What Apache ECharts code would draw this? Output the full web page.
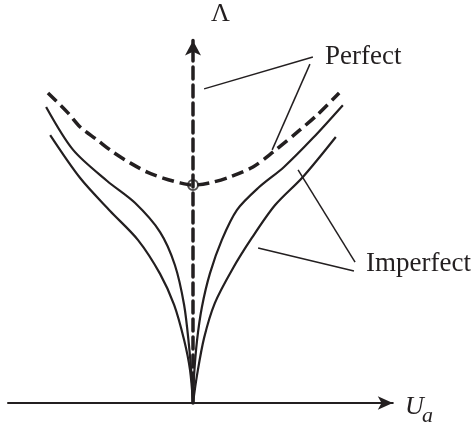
<!DOCTYPE html>
<html>
<head>
<meta charset="utf-8">
<script src="https://cdn.jsdelivr.net/npm/echarts@6/dist/echarts.min.js"></script>
<style>
  html, body { margin: 0; padding: 0; background: #fff; }
  #chart { width: 473px; height: 428px; }
</style>
</head>
<body>
<div id="chart"></div>
<script>
// Load–displacement sketch: U_a horizontally, Λ vertically.
// Perfect system: dashed post-buckling path branching from the vertical axis.
const perfectPath = [
  [-3.92, 8.38], [-3.38, 7.84], [-3.05, 7.46], [-2.59, 7.11], [-2.16, 6.78],
  [-1.70, 6.49], [-1.24, 6.24], [-0.81, 6.08], [-0.35, 5.95], [0, 5.89],
  [0.46, 5.95], [1.00, 6.11], [1.62, 6.38], [2.16, 6.78], [2.89, 7.38],
  [3.35, 7.78], [3.95, 8.38]
];
const bifurcationPoint = [[0, 5.89]];

// Imperfect systems: two levels of imperfection, each with a left and right branch.
const imperfectSmallLeft = [
  [-3.97, 8.00], [-3.24, 6.84], [-2.32, 6.00], [-1.57, 5.41], [-0.89, 4.62],
  [-0.49, 3.73], [-0.24, 2.65], [-0.11, 1.57], [-0.03, 0.62], [0, 0]
];
const imperfectSmallRight = [
  [4.05, 8.05], [3.24, 7.16], [2.46, 6.38], [1.76, 5.81], [1.19, 5.22],
  [0.78, 4.41], [0.46, 3.51], [0.24, 2.59], [0.11, 1.70], [0.03, 0.76], [0, 0]
];
const imperfectLargeLeft = [
  [-3.86, 7.24], [-3.05, 6.08], [-2.24, 5.19], [-1.49, 4.41], [-0.89, 3.49],
  [-0.51, 2.65], [-0.24, 1.70], [-0.08, 0.89], [0, 0]
];
const imperfectLargeRight = [
  [3.86, 7.19], [2.97, 6.11], [2.22, 5.35], [1.59, 4.46], [1.05, 3.59],
  [0.59, 2.70], [0.30, 1.76], [0.11, 0.76], [0, 0]
];

// Callout leader lines (data coordinates).
const perfectLeaders = [
  [[0.30, 8.49], [3.24, 9.35]],
  [[3.16, 9.16], [2.14, 6.84]]
];
const imperfectLeaders = [
  [[2.84, 6.30], [4.38, 3.81]],
  [[1.76, 4.19], [4.35, 3.57]]
];

const INK = '#231f20';
const SERIF = "'Liberation Serif', 'Times New Roman', serif";

function curve(data, dashed) {
  return {
    type: 'line',
    data: data,
    smooth: 0.3,
    showSymbol: false,
    symbol: 'none',
    silent: true,
    lineStyle: dashed
      ? { color: INK, width: 3.5, type: [12, 6] }
      : { color: INK, width: 2.2 },
    z: 3
  };
}
function leader(data) {
  return {
    type: 'line',
    data: data,
    showSymbol: false,
    symbol: 'none',
    silent: true,
    lineStyle: { color: INK, width: 1.5 },
    z: 4
  };
}

const chart = echarts.init(document.getElementById('chart'), null, { renderer: 'canvas' });
chart.setOption({
  animation: false,
  backgroundColor: '#fff',
  grid: { left: 8, right: 80.2, top: 40.4, bottom: 25, containLabel: false },
  xAxis: {
    type: 'value', min: -5, max: 5.4,
    axisLabel: { show: false }, axisTick: { show: false }, splitLine: { show: false },
    axisLine: {
      show: true, onZero: true,
      symbol: ['none', 'arrow'], symbolSize: [10, 15],
      lineStyle: { color: INK, width: 2 }
    }
  },
  yAxis: {
    type: 'value', min: 0, max: 9.8,
    axisLabel: { show: false }, axisTick: { show: false }, splitLine: { show: false },
    axisLine: {
      show: true, onZero: true,
      symbol: ['none', 'arrow'], symbolSize: [12, 15],
      lineStyle: { color: INK, width: 3.5, type: [12, 6] }
    }
  },
  series: [
    curve(perfectPath, true),
    curve(imperfectSmallLeft, false),
    curve(imperfectSmallRight, false),
    curve(imperfectLargeLeft, false),
    curve(imperfectLargeRight, false),
    leader(perfectLeaders[0]),
    leader(perfectLeaders[1]),
    leader(imperfectLeaders[0]),
    leader(imperfectLeaders[1]),
    {
      type: 'scatter',
      data: bifurcationPoint,
      symbol: 'circle',
      symbolSize: 10,
      silent: true,
      itemStyle: { color: 'rgba(0,0,0,0)', borderColor: INK, borderWidth: 2 },
      z: 5
    }
  ],
  graphic: [
    { type: 'text', x: 211, y: 14, style: { text: 'Λ', font: '26px ' + SERIF, fill: INK, verticalAlign: 'middle' } },
    { type: 'text', x: 325, y: 57, style: { text: 'Perfect', font: '27px ' + SERIF, fill: INK, verticalAlign: 'middle' } },
    { type: 'text', x: 366, y: 264, style: { text: 'Imperfect', font: '27px ' + SERIF, fill: INK, verticalAlign: 'middle' } },
    { type: 'text', x: 405, y: 407, style: { text: 'U', font: 'italic 26px ' + SERIF, fill: INK, verticalAlign: 'middle' } },
    { type: 'text', x: 422, y: 416, style: { text: 'a', font: 'italic 22px ' + SERIF, fill: INK, verticalAlign: 'middle' } }
  ]
});
</script>
</body>
</html>
